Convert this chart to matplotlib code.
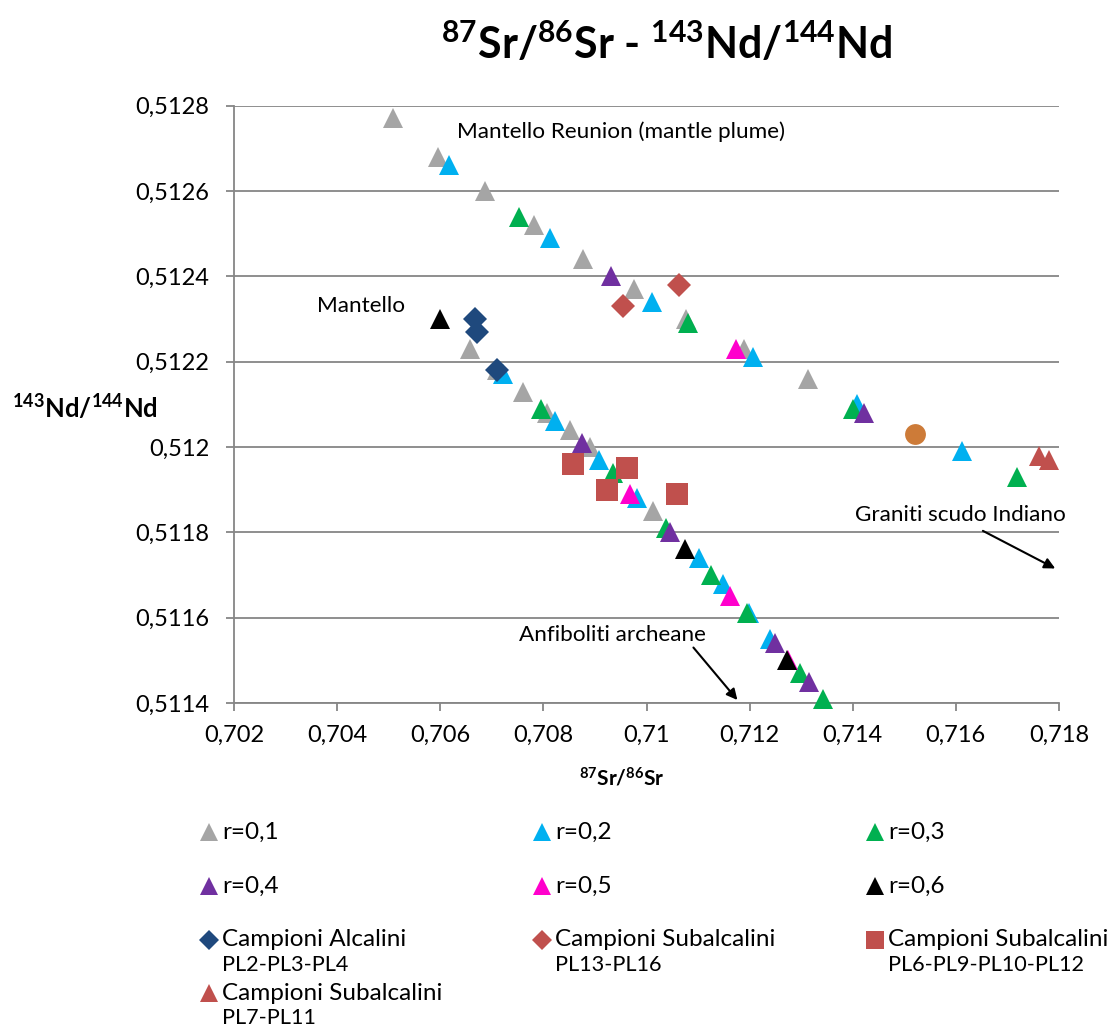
import matplotlib
matplotlib.use("Agg")
import matplotlib.pyplot as plt
from matplotlib.ticker import FuncFormatter

plt.rcParams['font.family'] = ['Lato', 'DejaVu Sans']
plt.rcParams['mathtext.fontset'] = 'custom'
plt.rcParams['mathtext.rm'] = 'Lato'
plt.rcParams['mathtext.bf'] = 'Lato:bold'
plt.rcParams['mathtext.it'] = 'Lato:italic'
plt.rcParams['mathtext.default'] = 'bf'

# ---------------- data (87Sr/86Sr, 143Nd/144Nd) ----------------
r01_x = [0.70508, 0.70596, 0.70687, 0.70781, 0.70876, 0.70975, 0.71077, 0.71189, 0.71314,
         0.70658, 0.70710, 0.70761, 0.70807, 0.70852, 0.70891, 0.71013]
r01_y = [0.51277, 0.51268, 0.51260, 0.51252, 0.51244, 0.51237, 0.51230, 0.51223, 0.51216,
         0.51223, 0.51218, 0.51213, 0.51208, 0.51204, 0.51200, 0.51185]

r02_x = [0.70617, 0.70813, 0.71010, 0.71207, 0.71408, 0.71612,
         0.70722, 0.70823, 0.70907, 0.70981, 0.71101, 0.71148, 0.71198, 0.71239]
r02_y = [0.51266, 0.51249, 0.51234, 0.51221, 0.51210, 0.51199,
         0.51217, 0.51206, 0.51197, 0.51188, 0.51174, 0.51168, 0.51161, 0.51155]

r03_x = [0.70753, 0.71080, 0.71401, 0.71718,
         0.70796, 0.70935, 0.71038, 0.71125, 0.71195, 0.71298, 0.71343]
r03_y = [0.51254, 0.51229, 0.51209, 0.51193,
         0.51209, 0.51194, 0.51181, 0.51170, 0.51161, 0.51147, 0.51141]

r04_x = [0.70932, 0.71421, 0.70875, 0.71046, 0.71250, 0.71316]
r04_y = [0.51240, 0.51208, 0.51201, 0.51180, 0.51154, 0.51145]

r05_x = [0.71174, 0.70968, 0.71162, 0.71275]
r05_y = [0.51223, 0.51189, 0.51165, 0.51150]

r06_x = [0.70600, 0.71075, 0.71272]
r06_y = [0.51230, 0.51176, 0.51150]

alc_x = [0.70668, 0.70672, 0.70711]
alc_y = [0.51230, 0.51227, 0.51218]

sub_d_x = [0.70955, 0.71063]
sub_d_y = [0.51233, 0.51238]

sub_sq_x = [0.70857, 0.70962, 0.70923, 0.71059]
sub_sq_y = [0.51196, 0.51195, 0.51190, 0.51189]

sub_tri_x = [0.71762, 0.71780]
sub_tri_y = [0.51198, 0.51197]

extra_x = [0.71521]
extra_y = [0.51203]

x_ticks = [0.702, 0.704, 0.706, 0.708, 0.710, 0.712, 0.714, 0.716, 0.718]
y_ticks = [0.5114, 0.5116, 0.5118, 0.5120, 0.5122, 0.5124, 0.5126, 0.5128]

legend_labels = ["r=0,1", "r=0,2", "r=0,3", "r=0,4", "r=0,5", "r=0,6",
                 "Campioni Alcalini\nPL2-PL3-PL4", "Campioni Subalcalini\nPL13-PL16",
                 "Campioni Subalcalini\nPL6-PL9-PL10-PL12", "Campioni Subalcalini\nPL7-PL11"]

# ---------------- styles ----------------
GRAY = '#A5A5A5'; BLUE = '#00B0F0'; GREEN = '#00B050'; PURPLE = '#7030A0'
MAGENTA = '#FF00CC'; BLACK = '#000000'; NAVY = '#1F497D'; RED = '#C0504D'
ORANGE = '#CD7B38'; AXCOL = '#868686'

TRI = 15.0   # pt
series = [
    (r01_x, r01_y, '^', GRAY, TRI),
    (r02_x, r02_y, '^', BLUE, TRI),
    (r03_x, r03_y, '^', GREEN, TRI),
    (r04_x, r04_y, '^', PURPLE, TRI),
    (r05_x, r05_y, '^', MAGENTA, TRI),
    (r06_x, r06_y, '^', BLACK, TRI),
    (alc_x, alc_y, 'D', NAVY, 11.8),
    (sub_d_x, sub_d_y, 'D', RED, 11.8),
    (sub_sq_x, sub_sq_y, 's', RED, 16.3),
    (sub_tri_x, sub_tri_y, '^', RED, TRI),
    (extra_x, extra_y, 'o', ORANGE, 15.0),
]

W, H = 1116, 1028
fig = plt.figure(figsize=(W / 100, H / 100), dpi=100)
L, R, T, B = 234, 1059, 105.7, 703
ax = fig.add_axes([L / W, 1 - B / H, (R - L) / W, (B - T) / H])

for i, (xs, ys, m, c, ms) in enumerate(series):
    ax.plot(xs, ys, linestyle='none', marker=m, color=c, markersize=ms,
            markeredgewidth=0, zorder=3 + i * 0.01, clip_on=False)

ax.set_xlim(0.702, 0.718)
ax.set_ylim(0.5114, 0.5128)
ax.set_xticks(x_ticks)
ax.set_yticks(y_ticks)

def fmt_x(v, pos):
    return f"{v:.4f}".rstrip('0').replace('.', ',')

def fmt_y(v, pos):
    return f"{v:.5f}".rstrip('0').replace('.', ',')

ax.xaxis.set_major_formatter(FuncFormatter(fmt_x))
ax.yaxis.set_major_formatter(FuncFormatter(fmt_y))

for s in ['top', 'right']:
    ax.spines[s].set_visible(False)
for s in ['left', 'bottom']:
    ax.spines[s].set_color(AXCOL)
    ax.spines[s].set_linewidth(1.3)
ax.grid(axis='y', color=AXCOL, linewidth=1.3, zorder=0)
ax.set_axisbelow(True)
ax.tick_params(axis='both', direction='out', length=6, width=1.3, color=AXCOL,
               labelsize=17, labelcolor='black')
ax.tick_params(axis='x', pad=10)
ax.tick_params(axis='y', pad=12)

# annotations
ANN = 16.2
ax.text(0.709508, 0.51274, "Mantello Reunion (mantle plume)", fontsize=ANN,
        ha='center', va='center')
ax.text(0.704464, 0.51233, "Mantello", fontsize=ANN, ha='center', va='center')
ax.text(0.716084, 0.51184, "Graniti scudo Indiano", fontsize=ANN, ha='center', va='center')
ax.text(0.709346, 0.51156, "Anfiboliti archeane", fontsize=ANN, ha='center', va='center')
ax.annotate("", xy=(0.717927, 0.5117153), xytext=(0.716524, 0.5118035),
            arrowprops=dict(arrowstyle='-|>', color='black', lw=1.5, mutation_scale=16,
                            shrinkA=0, shrinkB=0), annotation_clip=False)
ax.annotate("", xy=(0.711763, 0.511407), xytext=(0.71091, 0.51153),
            arrowprops=dict(arrowstyle='-|>', color='black', lw=1.5, mutation_scale=16,
                            shrinkA=0, shrinkB=0), annotation_clip=False)

# titles
fig.text(667 / W, 1 - 44 / H, r"$^{87}$Sr/$^{86}$Sr - $^{143}$Nd/$^{144}$Nd",
         fontsize=31, fontweight='bold', ha='center', va='center')
fig.text(622 / W, 1 - 778 / H, r"$^{87}$Sr/$^{86}$Sr", fontsize=15,
         fontweight='bold', ha='center', va='center')
fig.text(85 / W, 1 - 408 / H, r"$^{143}$Nd/$^{144}$Nd", fontsize=18.5,
         fontweight='bold', ha='center', va='center')

# legend (Excel-style row-major grid)
lax = fig.add_axes([0, 0, 1, 1])
lax.set_xlim(0, W)
lax.set_ylim(H, 0)
lax.axis('off')
col_x = [209, 542, 875]
row_y = [832, 886, 940, 993]
leg_series = [series[i] for i in range(10)]
for k, (lab, s) in enumerate(zip(legend_labels, leg_series)):
    r, c = divmod(k, 3)
    mx, my = col_x[c], row_y[r]
    m = s[2]
    lms = {'^': 12.5, 'D': 10.0, 's': 13.5}[m]
    lax.plot([mx], [my], linestyle='none', marker=m, color=s[3], markersize=lms,
             markeredgewidth=0)
    lines = lab.split('\n')
    for j, line in enumerate(lines):
        lax.text(mx + 13, my + j * 25, line, fontsize=17.5 if j == 0 else 15.6,
                 ha='left', va='center')

fig.savefig("out.png", dpi=100)
